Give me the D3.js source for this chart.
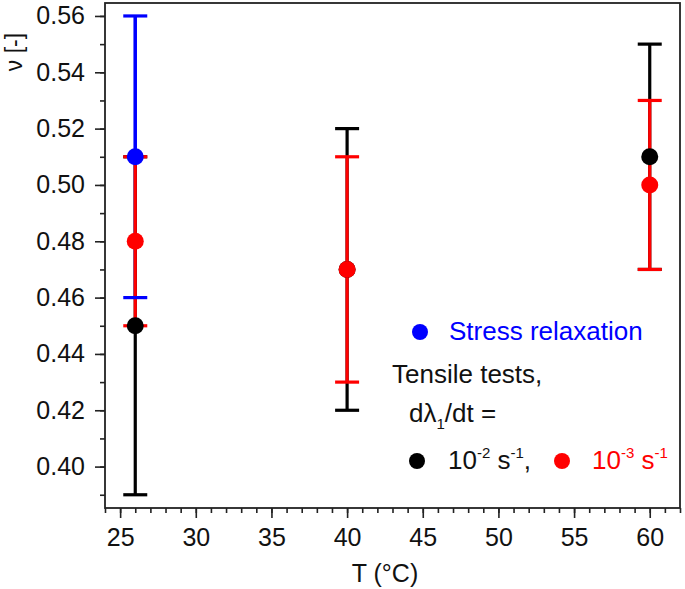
<!DOCTYPE html>
<html><head><meta charset="utf-8">
<script src="https://cdn.jsdelivr.net/npm/d3@7"></script>
<style>body{margin:0;background:#fff}svg{display:block;font-family:"Liberation Sans",Arial,sans-serif}</style>
</head><body><svg id="c" width="685" height="589"></svg>
<script>
// Data
const tempBlue = [26];
const nuBlue = [0.51];
const loBlue = [0.46];
const hiBlue = [0.56];

const tempBlack = [26, 40, 60];
const nuBlack = [0.45, 0.47, 0.51];
const loBlack = [0.39, 0.42, 0.47];
const hiBlack = [0.51, 0.52, 0.55];

const tempRed = [26, 40, 60];
const nuRed = [0.48, 0.47, 0.50];
const loRed = [0.45, 0.43, 0.47];
const hiRed = [0.51, 0.51, 0.53];

const xTicks = [25, 30, 35, 40, 45, 50, 55, 60];
const yTicks = [0.40, 0.42, 0.44, 0.46, 0.48, 0.50, 0.52, 0.54, 0.56];

const svg = d3.select("#c");
const L = 105, R = 680, T = 3, B = 508;
const x = d3.scaleLinear().domain([24, 62]).range([L, R]);
const y = d3.scaleLinear().domain([0.3853, 0.5646]).range([B, T]);

const fs = 25, lfs = 26;
// minor ticks
const gx = svg.append("g").attr("transform", `translate(0,${B})`)
  .call(d3.axisBottom(x).tickValues(d3.range(24, 63, 1)).tickSize(5).tickFormat(""));
const gx2 = svg.append("g").attr("transform", `translate(0,${B})`)
  .call(d3.axisBottom(x).tickValues(xTicks).tickSize(10).tickPadding(10).tickFormat(d3.format("d")));
const gy = svg.append("g").attr("transform", `translate(${L},0)`)
  .call(d3.axisLeft(y).tickValues(d3.range(39, 57, 1).map(v => v / 100)).tickSize(5).tickFormat(""));
const gy2 = svg.append("g").attr("transform", `translate(${L},0)`)
  .call(d3.axisLeft(y).tickValues(yTicks).tickSize(10).tickPadding(10).tickFormat(d3.format(".2f")));
[gx, gx2, gy, gy2].forEach(g => {
  g.select(".domain").remove();
  g.selectAll("line").attr("stroke", "#222").attr("stroke-width", 1.6);
  g.selectAll("text").attr("font-size", fs).attr("fill", "#111").attr("font-family", "Liberation Sans, Arial, sans-serif");
});
// frame
svg.append("rect").attr("x", L).attr("y", T).attr("width", R - L).attr("height", B - T)
  .attr("fill", "none").attr("stroke", "#222").attr("stroke-width", 1.8);

function bars(ts, lo, hi, color, caps = true, lines = true) {
  const g = svg.append("g").attr("stroke", color).attr("stroke-width", 3.2);
  ts.forEach((t, i) => {
    if (lines) g.append("line").attr("x1", x(t)).attr("x2", x(t)).attr("y1", y(lo[i])).attr("y2", y(hi[i]));
    if (caps) [lo[i], hi[i]].forEach(v => g.append("line")
      .attr("x1", x(t) - 12).attr("x2", x(t) + 12).attr("y1", y(v)).attr("y2", y(v)));
  });
}
bars(tempBlue, loBlue, hiBlue, "#0000ff", false, true);
bars(tempBlack, loBlack, hiBlack, "#000000");
bars(tempRed, loRed, hiRed, "#ff0000");
bars(tempBlue, loBlue, hiBlue, "#0000ff", true, false);
// blue upper segment above red
svg.append("line").attr("x1", x(tempBlue[0])).attr("x2", x(tempBlue[0]))
  .attr("y1", y(nuBlue[0])).attr("y2", y(hiBlue[0])).attr("stroke", "#0000ff").attr("stroke-width", 3.2);

function dots(ts, vs, color) {
  svg.append("g").selectAll("circle").data(ts).join("circle")
    .attr("cx", d => x(d)).attr("cy", (d, i) => y(vs[i])).attr("r", 8.5).attr("fill", color);
}
dots(tempBlack, nuBlack, "#000000");
dots(tempRed, nuRed, "#ff0000");
dots(tempBlue, nuBlue, "#0000ff");

// axis titles
svg.append("text").attr("x", 385).attr("y", 582).attr("text-anchor", "middle")
  .attr("font-size", fs).attr("fill", "#111").text("T (°C)");
svg.append("text").attr("transform", "translate(22,52) rotate(-90)").attr("text-anchor", "middle")
  .attr("font-size", 23).attr("fill", "#111").text("ν [-]");

// legend
svg.append("circle").attr("cx", 420).attr("cy", 332).attr("r", 8).attr("fill", "#0000ff");
svg.append("text").attr("x", 449).attr("y", 340).attr("font-size", lfs).attr("fill", "#0000ff").text("Stress relaxation");
svg.append("text").attr("x", 392).attr("y", 383).attr("font-size", lfs).attr("fill", "#111").text("Tensile tests,");
const t2 = svg.append("text").attr("x", 409).attr("y", 422).attr("font-size", lfs).attr("fill", "#111");
t2.append("tspan").text("dλ");
t2.append("tspan").attr("font-size", 15).attr("dy", 7).text("1");
t2.append("tspan").attr("dy", -7).text("/dt =");
svg.append("circle").attr("cx", 417).attr("cy", 461).attr("r", 8).attr("fill", "#000");
const t3 = svg.append("text").attr("x", 448).attr("y", 469).attr("font-size", lfs).attr("fill", "#111");
t3.append("tspan").text("10");
t3.append("tspan").attr("font-size", 15).attr("dy", -11).text("-2");
t3.append("tspan").attr("dy", 11).text(" s");
t3.append("tspan").attr("font-size", 15).attr("dy", -11).text("-1");
t3.append("tspan").attr("dy", 11).text(",");
svg.append("circle").attr("cx", 562).attr("cy", 461).attr("r", 8).attr("fill", "#ff0000");
const t4 = svg.append("text").attr("x", 592).attr("y", 469).attr("font-size", lfs).attr("fill", "#ff0000");
t4.append("tspan").text("10");
t4.append("tspan").attr("font-size", 15).attr("dy", -11).text("-3");
t4.append("tspan").attr("dy", 11).text(" s");
t4.append("tspan").attr("font-size", 15).attr("dy", -11).text("-1");
</script></body></html>
